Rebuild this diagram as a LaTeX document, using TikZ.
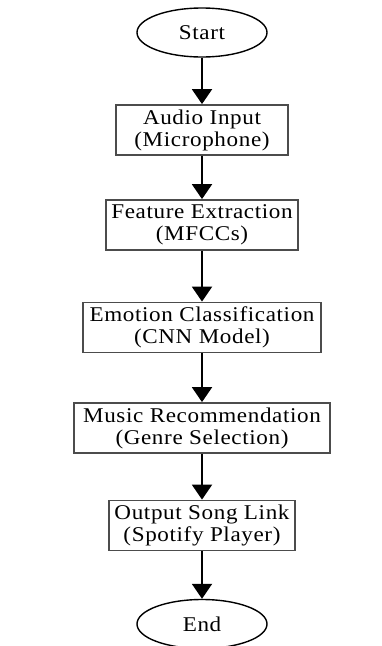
\documentclass[tikz,border=0pt]{standalone}
\usepackage{fontspec}
\setmainfont{Liberation Serif}[FakeStretch=1.1,LetterSpace=3]
\usetikzlibrary{shapes.geometric,arrows.meta}
\begin{document}
\begin{tikzpicture}[x=1pt,y=-1pt,
  flowbox/.style={draw=black!70, line width=1.8pt, rectangle, minimum height=50pt, align=center, font=\fontsize{21}{22}\selectfont, inner sep=0pt},
  term/.style={draw=black, line width=1.4pt, ellipse, minimum width=130pt, minimum height=49pt, font=\fontsize{21}{22}\selectfont, inner sep=0pt},
  flowarrow/.style={-{Triangle[width=20pt,length=15pt]}, line width=2pt}]
\useasboundingbox (0,0) rectangle (382,646);
\node[term] (start) at (202,32.5) {Start};
\node[flowbox, minimum width=172pt] (audio) at (202,130) {Audio Input\\(Microphone)};
\node[flowbox, minimum width=192pt] (feat) at (202,225) {Feature Extraction\\(MFCCs)};
\node[flowbox, minimum width=238pt] (emo) at (202,327.5) {Emotion Classification\\(CNN Model)};
\node[flowbox, minimum width=256pt] (music) at (202,428) {Music Recommendation\\(Genre Selection)};
\node[flowbox, minimum width=186pt] (out) at (202,525.5) {Output Song Link\\(Spotify Player)};
\node[term] (end) at (202,624) {End};
\draw[flowarrow] (start) -- (audio);
\draw[flowarrow] (audio) -- (feat);
\draw[flowarrow] (feat) -- (emo);
\draw[flowarrow] (emo) -- (music);
\draw[flowarrow] (music) -- (out);
\draw[flowarrow] (out) -- (end);
\end{tikzpicture}
\end{document}
